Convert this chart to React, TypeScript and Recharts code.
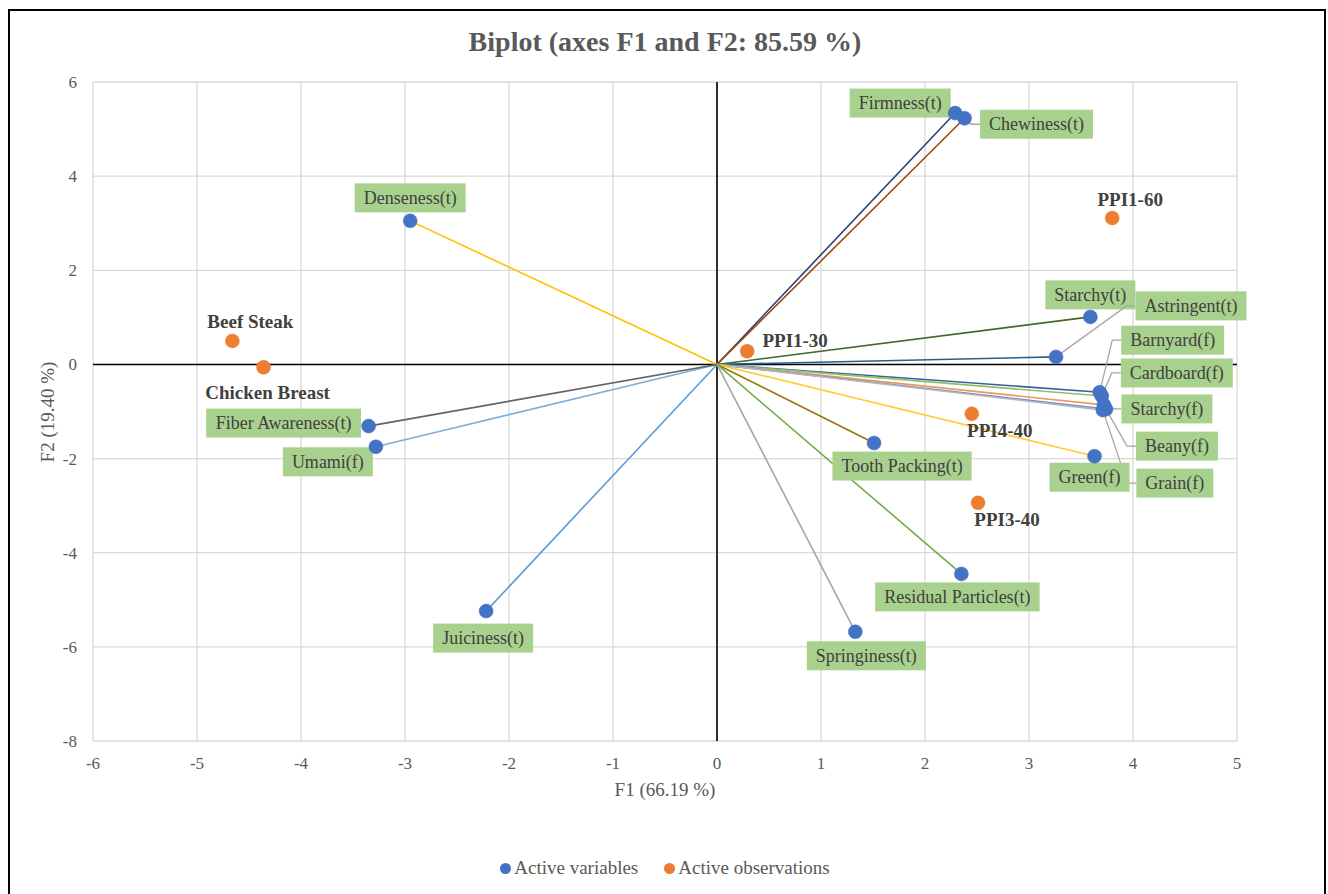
import { ScatterChart, Scatter, XAxis, YAxis, CartesianGrid, ReferenceLine } from 'recharts';

// active variables (F1, F2 loadings)
const variableNames = [
  'Firmness(t)', 'Chewiness(t)', 'Denseness(t)', 'Starchy(t)', 'Astringent(t)',
  'Barnyard(f)', 'Cardboard(f)', 'Starchy(f)', 'Beany(f)', 'Grain(f)', 'Green(f)',
  'Tooth Packing(t)', 'Residual Particles(t)', 'Springiness(t)', 'Juiciness(t)',
  'Umami(f)', 'Fiber Awareness(t)',
];
const variableF1 = [2.29, 2.38, -2.95, 3.59, 3.26, 3.68, 3.70, 3.72, 3.74, 3.71, 3.63, 1.51, 2.35, 1.33, -2.22, -3.28, -3.35];
const variableF2 = [5.34, 5.23, 3.05, 1.01, 0.16, -0.59, -0.67, -0.86, -0.95, -0.97, -1.95, -1.67, -4.45, -5.68, -5.24, -1.75, -1.31];
const vectorColors = [
  '#264478', '#9e480e', '#ffc000', '#43682b', '#255e91',
  '#3a5ea0', '#8cc168', '#f1975a', '#698ed0', '#b7b7b7', '#ffcd33',
  '#997300', '#70ad47', '#a5a5a5', '#5b9bd5', '#7cafdd', '#636363',
];

// active observations
const observationNames = ['Beef Steak', 'Chicken Breast', 'PPI1-30', 'PPI1-60', 'PPI4-40', 'PPI3-40'];
const observationF1 = [-4.66, -4.36, 0.29, 3.80, 2.45, 2.51];
const observationF2 = [0.50, -0.06, 0.28, 3.11, -1.05, -2.94];

const xTicks = [-6, -5, -4, -3, -2, -1, 0, 1, 2, 3, 4, 5];
const yTicks = [-8, -6, -4, -2, 0, 2, 4, 6];

const variables = variableNames.map((name, i) => ({ name, x: variableF1[i], y: variableF2[i] }));
const observations = observationNames.map((name, i) => ({ name, x: observationF1[i], y: observationF2[i] }));

// label placement (pixel offsets of label centre from its point)
const labelLayout: Record<string, { dx: number; dy: number; leader?: boolean }> = {
  'Firmness(t)': { dx: -55, dy: -10 },
  'Chewiness(t)': { dx: 72, dy: 6, leader: true },
  'Denseness(t)': { dx: 0, dy: -23 },
  'Starchy(t)': { dx: 0, dy: -22 },
  'Astringent(t)': { dx: 135, dy: -51, leader: true },
  'Barnyard(f)': { dx: 73, dy: -52, leader: true },
  'Cardboard(f)': { dx: 75, dy: -23, leader: true },
  'Starchy(f)': { dx: 63, dy: 4, leader: true },
  'Beany(f)': { dx: 71, dy: 37, leader: true },
  'Grain(f)': { dx: 72, dy: 73, leader: true },
  'Green(f)': { dx: -5, dy: 21 },
  'Tooth Packing(t)': { dx: 28, dy: 23 },
  'Residual Particles(t)': { dx: -4, dy: 23 },
  'Springiness(t)': { dx: 11, dy: 24 },
  'Juiciness(t)': { dx: -3, dy: 27 },
  'Umami(f)': { dx: -48, dy: 15 },
  'Fiber Awareness(t)': { dx: -85, dy: -3 },
  'Beef Steak': { dx: 18, dy: -19 },
  'Chicken Breast': { dx: 4, dy: 25 },
  'PPI1-30': { dx: 48, dy: -11 },
  'PPI1-60': { dx: 18, dy: -19 },
  'PPI4-40': { dx: 28, dy: 17 },
  'PPI3-40': { dx: 29, dy: 17 },
};

const SERIF = '"Liberation Serif", "Times New Roman", serif';
const TEXT = '#595959';

let ctx: CanvasRenderingContext2D | null = null;
function measure(text: string, font: string) {
  if (!ctx) ctx = document.createElement('canvas').getContext('2d');
  if (!ctx) return text.length * 8;
  ctx.font = font;
  return ctx.measureText(text).width;
}

const Empty = () => <g />;

const Dot = (color: string) => (props: any) => {
  const { cx, cy } = props;
  return <circle cx={cx} cy={cy} r={7} fill={color} stroke={color} strokeWidth={0.5} />;
};

const VarLabel = (props: any) => {
  const { cx, cy, payload } = props;
  const lay = labelLayout[payload.name] || { dx: 0, dy: -22 };
  const w = measure(payload.name, `18px ${SERIF}`) + 18;
  const h = 29;
  const mx = cx + lay.dx;
  const my = cy + lay.dy;
  const bx = mx - w / 2;
  let leader = null;
  if (lay.leader) {
    const left = cx < bx;
    const edgeX = left ? bx : bx + w;
    const elbowX = edgeX + (left ? -9 : 9);
    leader = (
      <polyline
        points={`${edgeX},${my} ${elbowX},${my} ${cx},${cy}`}
        fill="none"
        stroke="#a6a6a6"
        strokeWidth={1.3}
      />
    );
  }
  return (
    <g>
      {leader}
      <rect x={bx} y={my - h / 2} width={w} height={h} fill="#a9d18e" />
      <text x={mx} y={my} textAnchor="middle" dominantBaseline="central" fontFamily={SERIF} fontSize={18} fill="#404040">
        {payload.name}
      </text>
    </g>
  );
};

const ObsLabel = (props: any) => {
  const { cx, cy, payload } = props;
  const lay = labelLayout[payload.name] || { dx: 0, dy: -20 };
  return (
    <text
      x={cx + lay.dx}
      y={cy + lay.dy}
      textAnchor="middle"
      dominantBaseline="central"
      fontFamily={SERIF}
      fontSize={19}
      fontWeight="bold"
      fill="#404040"
    >
      {payload.name}
    </text>
  );
};

export default function App() {
  return (
    <div style={{ position: 'absolute', left: 0, top: 0, width: 1328, height: 894, background: '#fff', overflow: 'hidden' }}>
      <div style={{ position: 'absolute', left: 8, top: 9, width: 1318, height: 900, border: '2.5px solid #000', boxSizing: 'border-box' }} />
      <div style={{ position: 'absolute', left: 0, top: 26, width: 1330, textAlign: 'center', fontFamily: SERIF, fontSize: 28, fontWeight: 'bold', color: TEXT }}>
        Biplot (axes F1 and F2: 85.59 %)
      </div>
      <div style={{ position: 'absolute', left: 0, width: 1330, top: 779, textAlign: 'center', fontFamily: SERIF, fontSize: 19, color: TEXT }}>
        F1 (66.19 %)
      </div>
      <div style={{ position: 'absolute', left: 48, top: 412, transform: 'translate(-50%, -50%) rotate(-90deg)', whiteSpace: 'nowrap', fontFamily: SERIF, fontSize: 19, color: TEXT }}>
        F2 (19.40 %)
      </div>
      <div style={{ position: 'absolute', left: 0, width: 1330, top: 857, display: 'flex', justifyContent: 'center', gap: 26, fontFamily: SERIF, fontSize: 19, color: TEXT }}>
        <span style={{ display: 'flex', alignItems: 'center', gap: 3 }}>
          <span style={{ width: 11, height: 11, borderRadius: '50%', background: '#4472c4', display: 'inline-block' }} />
          Active variables
        </span>
        <span style={{ display: 'flex', alignItems: 'center', gap: 3 }}>
          <span style={{ width: 11, height: 11, borderRadius: '50%', background: '#ed7d31', display: 'inline-block' }} />
          Active observations
        </span>
      </div>
      <div style={{ position: 'absolute', left: 0, top: 0 }}>
        <ScatterChart width={1328} height={894} margin={{ top: 82, right: 91, bottom: 123, left: 33 }}>
          <CartesianGrid stroke="#d9d9d9" strokeWidth={1.3} />
          <XAxis
            type="number"
            dataKey="x"
            domain={[-6, 5]}
            ticks={xTicks}
            interval={0}
            height={30}
            axisLine={false}
            tickLine={false}
            tickMargin={10}
            tick={{ fill: TEXT, fontSize: 17, fontFamily: SERIF }}
          />
          <YAxis
            type="number"
            dataKey="y"
            domain={[-8, 6]}
            ticks={yTicks}
            interval={0}
            width={60}
            axisLine={false}
            tickLine={false}
            tickMargin={10}
            tick={{ fill: TEXT, fontSize: 17, fontFamily: SERIF }}
          />
          <ReferenceLine x={0} stroke="#000" strokeWidth={1.6} />
          <ReferenceLine y={0} stroke="#000" strokeWidth={1.6} />
          {variables.map((v, i) => (
            <Scatter
              key={v.name}
              data={[{ x: 0, y: 0 }, { x: v.x, y: v.y }]}
              fill={vectorColors[i]}
              line={{ stroke: vectorColors[i], strokeWidth: 1.6 }}
              shape={Empty}
              isAnimationActive={false}
            />
          ))}
          <Scatter data={variables} shape={VarLabel} isAnimationActive={false} />
          <Scatter data={variables} fill="#4472c4" shape={Dot('#4472c4')} isAnimationActive={false} />
          <Scatter data={observations} fill="#ed7d31" shape={Dot('#ed7d31')} isAnimationActive={false} />
          <Scatter data={observations} shape={ObsLabel} isAnimationActive={false} />
        </ScatterChart>
      </div>
    </div>
  );
}
